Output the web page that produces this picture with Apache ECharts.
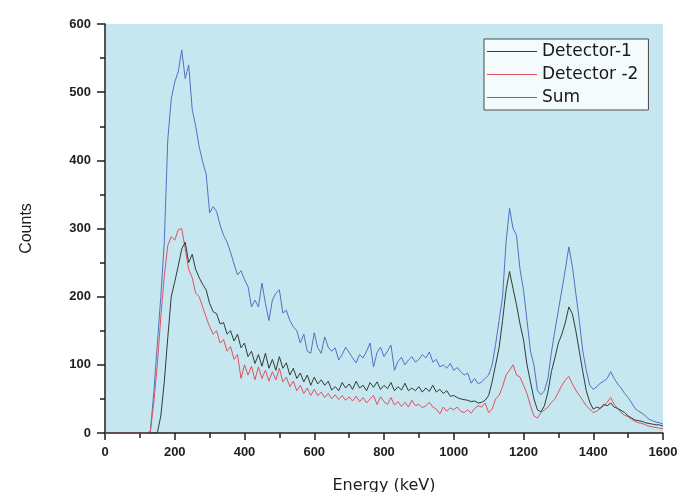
<!DOCTYPE html>
<html>
<head>
<meta charset="utf-8">
<title>Energy spectrum</title>
<script src="https://cdn.jsdelivr.net/npm/echarts@6/dist/echarts.min.js"></script>
<style>
  html, body { margin: 0; padding: 0; background: #ffffff; }
  #chart { width: 677px; height: 492px; }
</style>
</head>
<body>
<div id="chart"></div>
<script>
// Channel grid: counts are sampled every 10 keV from 0 to 1600 keV
const STEP_KEV = 10;

const seriesNames = ['Detector-1', 'Detector -2', 'Sum'];

const detector1 = [
  0, 0, 0, 0, 0, 0, 0, 0, 0, 0, 0, 0, 0, 0, 0, 0,
  25, 75, 140, 200, 222, 245, 270, 280, 250, 262, 240, 228, 218, 210,
  190, 178, 175, 160, 162, 145, 150, 135, 145, 125,
  132, 112, 120, 102, 115, 98, 117, 95, 108, 92,
  112, 95, 103, 85, 95, 80, 88, 75, 85, 70,
  82, 72, 78, 70, 76, 63, 68, 62, 74, 66,
  72, 64, 76, 66, 70, 62, 74, 67, 75, 64,
  70, 65, 74, 62, 68, 63, 73, 62, 66, 62,
  68, 60, 66, 61, 70, 60, 64, 58, 62, 54,
  55, 52, 50, 49, 48, 46, 47, 44, 45, 48,
  55, 75, 100, 125, 165, 210, 237, 212, 188, 160,
  137, 100, 75, 50, 34, 31, 40, 60, 90, 110,
  132, 145, 162, 185, 175, 150, 120, 90, 62, 45,
  35, 38, 36, 42, 40, 44, 38, 36, 33, 30,
  25, 22, 19, 18, 17, 15, 14, 13, 12, 12,
  10
];

const detector2 = [
  0, 0, 0, 0, 0, 0, 0, 0, 0, 0, 0, 0, 0,
  2, 45, 100, 170, 230, 275, 288, 283, 298, 300, 270, 240, 228, 205, 200, 185, 170,
  156, 145, 150, 132, 137, 120, 127, 108, 115, 80,
  100, 85, 98, 78, 97, 80, 92, 76, 90, 78,
  95, 75, 82, 68, 76, 62, 70, 58, 66, 55,
  64, 55, 60, 52, 58, 50, 56, 49, 55, 48,
  53, 47, 54, 46, 52, 44, 50, 55, 42, 53,
  46, 42, 52, 41, 46, 39, 45, 38, 48, 40,
  42, 37, 40, 45, 38, 35, 28, 38, 32, 37,
  34, 38, 32, 30, 34, 29, 36, 40, 38, 44,
  30, 35, 50, 55, 68, 85, 92, 100, 85, 82,
  70, 58, 40, 25, 22, 30, 34, 38, 45, 50,
  60, 70, 78, 83, 72, 63, 55, 48, 40, 35,
  30, 32, 36, 40, 45, 52, 42, 36, 30, 26,
  24, 20, 17, 15, 14, 12, 10, 9, 8, 7,
  6
];

const sum = [
  0, 0, 0, 0, 0, 0, 0, 0, 0, 0, 0, 0, 0,
  2, 60, 130, 200, 280, 430, 490, 515, 530, 562, 520, 540, 475, 450, 420, 398, 380,
  323, 332, 325, 305, 290, 280, 265, 248, 232, 238,
  225, 215, 185, 195, 185, 220, 190, 165, 195, 205,
  210, 176, 180, 165, 156, 150, 132, 145, 120, 117,
  147, 125, 117, 141, 126, 120, 125, 107, 115, 126,
  118, 110, 103, 115, 110, 120, 132, 97, 118, 126,
  112, 120, 129, 92, 105, 111, 100, 107, 112, 104,
  108, 115, 110, 119, 104, 108, 97, 100, 95, 102,
  92, 96, 90, 85, 88, 73, 80, 72, 75, 80,
  85, 100, 130, 165, 200, 280, 330, 300, 290, 240,
  210, 165, 120, 100, 62, 56, 62, 80, 118, 150,
  180, 210, 240, 273, 245, 205, 165, 120, 92, 70,
  64, 68, 73, 76, 80, 90, 80, 72, 66, 58,
  52, 44, 36, 32, 29, 25, 20, 18, 16, 15,
  13
];

const seriesValues = [detector1, detector2, sum];
const seriesColors = ['#2e3d35', '#e0505f', '#4d72c4'];

function toPairs(values) {
  return values.map((v, i) => [i * STEP_KEV, v]);
}

const chart = echarts.init(document.getElementById('chart'), null, { renderer: 'canvas' });

const axisTextColor = '#1e1e1e';
const axisFont = { fontFamily: 'Liberation Sans', fontWeight: 'bold', fontSize: 13, color: axisTextColor };
const plainNumber = v => String(v);

// Draw Sum first so the detector traces sit above it
const drawOrder = [2, 1, 0];

chart.setOption({
  animation: false,
  backgroundColor: '#ffffff',
  grid: {
    left: 105, right: 14, top: 24, bottom: 59,
    outerBoundsMode: 'none',
    containLabel: false,
    show: true, backgroundColor: '#c6e7ef', borderWidth: 0
  },
  legend: {
    data: seriesNames,
    orient: 'vertical',
    left: 484, top: 39,
    width: 167,
    padding: [3, 10, 3, 3],
    itemGap: 4,
    itemWidth: 50,
    itemHeight: 1,
    icon: 'rect',
    backgroundColor: '#f4fbfd',
    borderColor: '#4a4a4a',
    borderWidth: 1,
    textStyle: { fontFamily: 'DejaVu Sans', fontSize: 17, lineHeight: 19, color: '#1a1a1a', padding: [0, 0, 0, 0] }
  },
  xAxis: {
    type: 'value',
    min: 0, max: 1600, interval: 200,
    name: 'Energy (keV)',
    nameLocation: 'middle',
    nameGap: 45,
    nameTextStyle: { fontFamily: 'DejaVu Sans', fontSize: 16, color: axisTextColor },
    axisLine: { show: true, onZero: false, lineStyle: { color: '#1e1e1e', width: 1.5 } },
    axisTick: { show: true, inside: false, length: 7, lineStyle: { color: '#1e1e1e', width: 1.5 } },
    minorTick: { show: true, splitNumber: 2, length: 5, lineStyle: { color: '#1e1e1e', width: 1.5 } },
    axisLabel: Object.assign({ margin: 13, formatter: plainNumber }, axisFont),
    splitLine: { show: false }
  },
  yAxis: {
    type: 'value',
    min: 0, max: 600, interval: 100,
    name: 'Counts',
    nameLocation: 'middle',
    nameGap: 70,
    nameTextStyle: { fontFamily: 'Liberation Sans', fontSize: 16, color: axisTextColor },
    axisLine: { show: true, onZero: false, lineStyle: { color: '#1e1e1e', width: 1.5 } },
    axisTick: { show: true, inside: false, length: 8, lineStyle: { color: '#1e1e1e', width: 1.5 } },
    minorTick: { show: true, splitNumber: 2, length: 5, lineStyle: { color: '#1e1e1e', width: 1.5 } },
    axisLabel: Object.assign({ margin: 14, formatter: plainNumber }, axisFont),
    splitLine: { show: false }
  },
  series: drawOrder.map(k => ({
    name: seriesNames[k],
    type: 'line',
    data: toPairs(seriesValues[k]),
    showSymbol: false,
    symbol: 'none',
    color: seriesColors[k],
    lineStyle: { color: seriesColors[k], width: 1 },
    emphasis: { disabled: true }
  }))
});
</script>
</body>
</html>
